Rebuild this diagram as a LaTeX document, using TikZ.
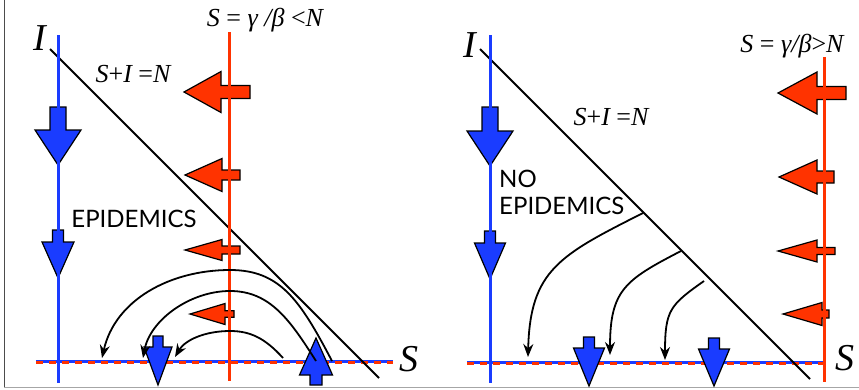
\documentclass[tikz,border=0pt]{standalone}
\usepackage{fontspec}
\setmainfont{Liberation Serif}
\newfontfamily\labelsans{Lato}
\usetikzlibrary{arrows.meta}
\definecolor{flowBlue}{HTML}{1A3CFF}
\definecolor{flowRed}{HTML}{FF3300}
% block arrow: style, tip x, tip y, rotation, head length, head half width, tail length, tail half width
\newcommand{\flowarrow}[8]{%
  \draw[#1,shift={(#2,#3)},rotate=#4] (0,0) -- (#5,#6) -- (#5,#8) -- ({#5+#7},#8)
    -- ({#5+#7},-#8) -- (#5,-#8) -- (#5,-#6) -- cycle;}

\begin{document}
\begin{tikzpicture}[x=1pt,y=-1pt,>={Stealth[length=13pt,width=10pt]},
  blueaxis/.style={flowBlue,line width=3pt},
  redaxis/.style={flowRed,line width=3pt},
  reddash/.style={flowRed,line width=2.6pt,dash pattern=on 7pt off 6pt},
  diag/.style={black,line width=1.8pt},
  orbit/.style={black,line width=1.8pt,->},
  bluearr/.style={fill=flowBlue,draw=black,line width=1.2pt,line join=miter},
  redarr/.style={fill=flowRed,draw=black,line width=1.2pt,line join=miter},
  mathlbl/.style={font=\fontsize{26}{30}\selectfont\itshape},
  axislbl/.style={font=\fontsize{38}{42}\selectfont\itshape},
  wordlbl/.style={font=\labelsans\fontsize{24}{27}\selectfont,align=left}]
\useasboundingbox (0,0) rectangle (859,389);
% frame
\draw[black!70,line width=1pt] (4,0) -- (4,387);
\draw[black!35,line width=1pt] (4,387) -- (859,387);

%%% left panel: epidemics
\draw[blueaxis] (36,361) -- (393,361);
\draw[reddash] (36,362.5) -- (393,362.5);
\draw[diag] (50,49) -- (379,378);
% flows on the I axis
\flowarrow{bluearr}{58}{165}{90}{35}{23}{23}{8}
\flowarrow{bluearr}{58}{278}{90}{36}{16}{12}{5.5}
% flows across S = gamma/beta
\flowarrow{redarr}{184}{92}{0}{37}{20.5}{29}{6.5}
\flowarrow{redarr}{185}{175}{0}{37}{16.5}{18}{5}
\flowarrow{redarr}{185}{250}{0}{37}{10.5}{18}{4}
\flowarrow{redarr}{190}{314}{0}{35}{10.5}{9}{3.3}
\draw[blueaxis] (58,35) -- (58,383);
\draw[redaxis] (229,32) -- (229,381);
% flows on the S axis
\flowarrow{bluearr}{158}{385}{90}{38}{14}{11}{5}
\flowarrow{bluearr}{316}{338}{-90}{37}{16.5}{10}{6}
% orbits
\coordinate (a1) at (332,361);
\coordinate (a2) at (102,358);
\coordinate (b1) at (316,361);
\coordinate (b2) at (143,358);
\coordinate (c1) at (283,358);
\coordinate (c2) at (175,357);
\draw[orbit] (a1) .. controls (300,300) and (280,270) .. (230,270)
  .. controls (170,270) and (115,300) .. (a2);
\draw[orbit] (b1) .. controls (290,320) and (270,291) .. (230,291)
  .. controls (190,291) and (150,320) .. (b2);
\draw[orbit] (c1) .. controls (265,338) and (250,331) .. (230,331)
  .. controls (205,331) and (185,340) .. (c2);
% labels
\node[axislbl] (Ileft) at (40,38) {I};
\node[axislbl] (Sleft) at (409,359) {S};
\node[mathlbl] (thrleft) at (265,20) {S {\upshape=} γ /β {\upshape<}N};
\node[mathlbl] (lineleft) at (133,74) {S{\upshape+}I {\upshape=}N};
\node[wordlbl] (epi) at (134,219) {EPIDEMICS};

%%% right panel: no epidemics
\draw[blueaxis] (467,362) -- (824,362);
\draw[reddash] (467,363.5) -- (824,363.5);
\draw[diag] (480,49) -- (810,379);
\flowarrow{bluearr}{490}{166}{90}{35}{23}{24}{8}
\flowarrow{bluearr}{490}{279}{90}{36}{15.5}{12}{5.5}
\flowarrow{redarr}{778}{93}{0}{39}{21}{29}{6.5}
\flowarrow{redarr}{779}{177}{0}{38}{17}{17}{6}
\flowarrow{redarr}{778}{251}{0}{39}{11}{18}{3.5}
\flowarrow{redarr}{783}{314}{0}{39}{11.5}{7}{4}
\draw[blueaxis] (490,35) -- (490,383);
\draw[redaxis] (824,57) -- (824,382);
\flowarrow{bluearr}{589}{386}{90}{38}{15.5}{11}{5.5}
\flowarrow{bluearr}{714}{386}{90}{37}{15.5}{11}{5.5}
\coordinate (d1) at (643,213);
\coordinate (d2) at (528,357);
\coordinate (e1) at (681,251);
\coordinate (e2) at (610,355);
\coordinate (f1) at (704,281);
\coordinate (f2) at (665,360);
\draw[orbit] (d1) .. controls (560,255) and (530,270) .. (d2);
\draw[orbit] (e1) .. controls (625,280) and (610,290) .. (e2);
\draw[orbit] (f1) .. controls (670,305) and (665,310) .. (f2);
\node[axislbl] (Iright) at (470,45) {I};
\node[axislbl] (Sright) at (845,358) {S};
\node[mathlbl] (thrright) at (792,46) {S {\upshape=} γ/β{\upshape>}N};
\node[mathlbl] (lineright) at (611,117) {S{\upshape+}I {\upshape=}N};
\node[wordlbl,anchor=north west,inner sep=0pt] (noepi) at (499,170) {NO\\EPIDEMICS};
\end{tikzpicture}
\end{document}
